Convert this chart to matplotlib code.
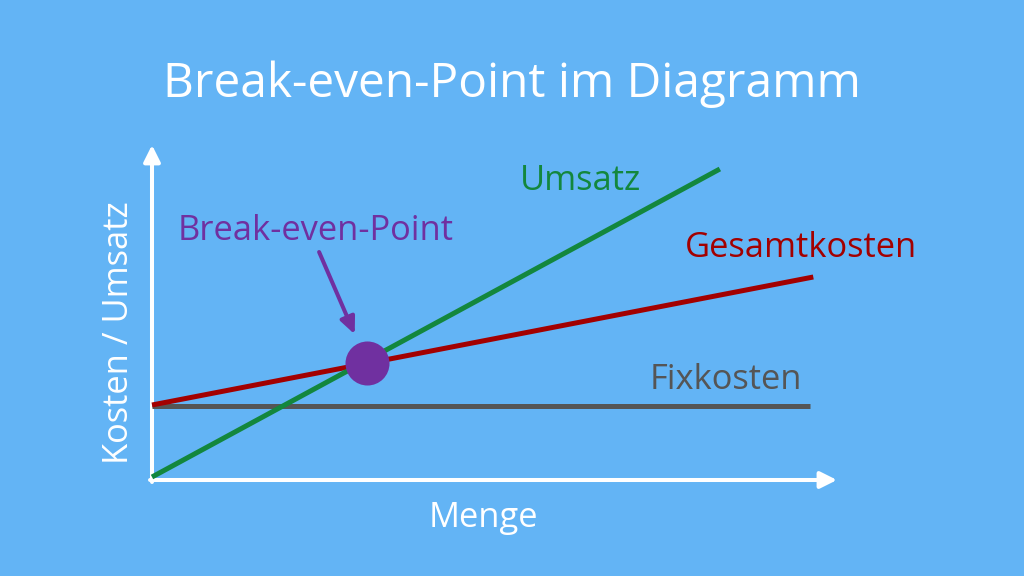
import matplotlib
matplotlib.use("Agg")
import matplotlib.pyplot as plt

# values (Menge on x, Kosten/Umsatz on y, arbitrary units)
menge_fix = [0, 10.0]
fixkosten = [7.4, 7.4]
menge_gesamt = [0, 10.05]
gesamtkosten = [7.5, 20.3]
menge_umsatz = [0, 8.63]
umsatz = [0.3, 31.1]
bep_menge = 3.27
bep_wert = 11.7

x_axis_end = 10.41
y_axis_end = 33.5

BG = "#63B4F5"
GREEN = "#13873D"
RED = "#A30000"
GRAY = "#555555"
PURPLE = "#7030A0"

plt.rcParams["font.family"] = ["Open Sans", "DejaVu Sans"]

W, H = 1024, 576
fig = plt.figure(figsize=(W / 100, H / 100), dpi=100, facecolor=BG)
ax = fig.add_axes([0, 0, 1, 1])
ax.set_facecolor(BG)
ax.axis("off")
# origin of the chart sits at pixel (152, 480): 65.8 px per Menge unit, 10 px per y unit
ax.set_xlim(-152 / 65.8, (W - 152) / 65.8)
ax.set_ylim(-(H - 480) / 10, 480 / 10)


def fx(px):
    return px / W


def fy(py):
    return 1 - py / H


# axes with arrow heads
arrow_style = "-|>,head_length=10,head_width=5"
for tail, tip in [((-0.03, 0), (x_axis_end, 0)), ((0, -0.2), (0, y_axis_end))]:
    ax.annotate("", xy=tip, xytext=tail,
                arrowprops=dict(arrowstyle=arrow_style, color="white", lw=2.9,
                                shrinkA=0, shrinkB=0, mutation_scale=1))

# lines
ax.plot(menge_fix, fixkosten, color=GRAY, lw=3.6, solid_capstyle="butt", zorder=3)
ax.plot(menge_gesamt, gesamtkosten, color=RED, lw=3.6, solid_capstyle="butt", zorder=4)
ax.plot(menge_umsatz, umsatz, color=GREEN, lw=3.6, solid_capstyle="butt", zorder=4)

# break-even point
ax.scatter([bep_menge], [bep_wert], s=31.7 ** 2, color=PURPLE, zorder=6, linewidths=0)
ax.annotate("", xy=(bep_menge, bep_wert), xytext=(-34.6, 79.9), textcoords="offset points",
            arrowprops=dict(arrowstyle="-|>,head_length=10,head_width=4.5", color=PURPLE,
                            lw=2.9, shrinkA=0, shrinkB=22.5, mutation_scale=1), zorder=6)

# texts
LBL = 24.8
fig.text(fx(512), fy(97), "Break-even-Point im Diagramm", color="white", fontsize=34.5,
         ha="center", va="baseline")
fig.text(fx(520), fy(190), "Umsatz", color=GREEN, fontsize=LBL, ha="left", va="baseline")
fig.text(fx(178), fy(240), "Break-even-Point", color=PURPLE, fontsize=LBL, ha="left", va="baseline")
fig.text(fx(685), fy(257), "Gesamtkosten", color=RED, fontsize=LBL, ha="left", va="baseline")
fig.text(fx(650), fy(389), "Fixkosten", color=GRAY, fontsize=LBL, ha="left", va="baseline")
fig.text(fx(483), fy(527), "Menge", color="white", fontsize=LBL, ha="center", va="baseline")
fig.text(fx(128), fy(333), "Kosten / Umsatz", color="white", fontsize=LBL, rotation=90,
         rotation_mode="anchor", ha="center", va="baseline")

fig.savefig("out.png", dpi=100, facecolor=BG)
